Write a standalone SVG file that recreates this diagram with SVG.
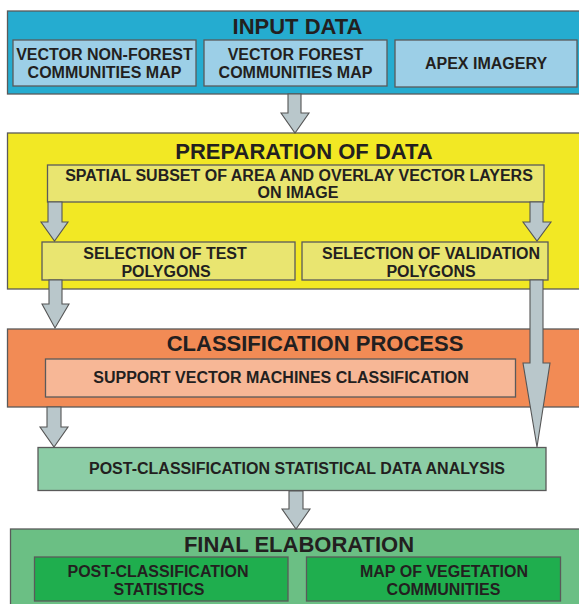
<svg xmlns="http://www.w3.org/2000/svg" width="579" height="604" viewBox="0 0 579 604">
<style>
text{font-family:"Liberation Sans",Arial,sans-serif;font-weight:bold;fill:#231f20;text-anchor:middle}
.t{font-size:22px}
.s{font-size:16px}
.box{stroke:#5a5a5a;stroke-width:1.3}
.arr{fill:#b9c7cb;stroke:#555;stroke-width:1.1;stroke-linejoin:miter}
</style>
<rect width="579" height="604" fill="#ffffff"/>
<g id="input-data">
<rect class="box" x="7.5" y="11" width="575" height="83" fill="#25acd0"/>
<text class="t" x="297.5" y="34">INPUT DATA</text>
</g>
<g id="vector-nonforest">
<rect class="box" x="13" y="40" width="183" height="46" fill="#9ccfe7"/>
<text class="s" x="104.5" y="60">VECTOR NON-FOREST</text>
<text class="s" x="104.5" y="78">COMMUNITIES MAP</text>
</g>
<g id="vector-forest">
<rect class="box" x="204" y="40" width="183" height="46" fill="#9ccfe7"/>
<text class="s" x="295.5" y="60">VECTOR FOREST</text>
<text class="s" x="295.5" y="78">COMMUNITIES MAP</text>
</g>
<g id="apex">
<rect class="box" x="395" y="40" width="182" height="47" fill="#9ccfe7"/>
<text class="s" x="486" y="69">APEX IMAGERY</text>
</g>
<g id="preparation">
<rect class="box" x="7.5" y="133" width="575" height="156" fill="#f2e824"/>
<text class="t" x="304" y="159">PREPARATION OF DATA</text>
</g>
<g id="spatial-subset">
<rect class="box" x="47.5" y="165" width="496.5" height="37" fill="#e9e570"/>
<text class="s" x="299" y="181">SPATIAL SUBSET OF AREA AND OVERLAY VECTOR LAYERS</text>
<text class="s" x="298" y="198">ON IMAGE</text>
</g>
<g id="test-polygons">
<rect class="box" x="42" y="242" width="253" height="38" fill="#e9e570"/>
<text class="s" x="165" y="259">SELECTION OF TEST</text>
<text class="s" x="166" y="277">POLYGONS</text>
</g>
<g id="validation-polygons">
<rect class="box" x="302" y="242" width="246" height="38" fill="#e9e570"/>
<text class="s" x="431" y="259">SELECTION OF VALIDATION</text>
<text class="s" x="431" y="277">POLYGONS</text>
</g>
<g id="classification">
<rect class="box" x="7.5" y="329" width="575" height="78" fill="#f28b55"/>
<text class="t" x="315" y="351">CLASSIFICATION PROCESS</text>
</g>
<g id="svm">
<rect class="box" x="45.5" y="359" width="470" height="38" fill="#f7b796"/>
<text class="s" x="281" y="383">SUPPORT VECTOR MACHINES CLASSIFICATION</text>
</g>
<g id="analysis">
<rect class="box" x="38" y="447.5" width="508" height="43" fill="#8ccda6"/>
<text class="s" x="297" y="474">POST-CLASSIFICATION STATISTICAL DATA ANALYSIS</text>
</g>
<g id="final">
<rect class="box" x="10.5" y="529" width="575" height="80" fill="#6bbf84"/>
<text class="t" x="299" y="552">FINAL ELABORATION</text>
</g>
<g id="statistics">
<rect class="box" x="34.5" y="557" width="253.5" height="44" fill="#1fae4e"/>
<text class="s" x="158" y="577">POST-CLASSIFICATION</text>
<text class="s" x="159" y="595">STATISTICS</text>
</g>
<g id="vegetation-map">
<rect class="box" x="306.5" y="557" width="254" height="44" fill="#1fae4e"/>
<text class="s" x="444" y="577">MAP OF VEGETATION</text>
<text class="s" x="443.5" y="595">COMMUNITIES</text>
</g>
<g id="connectors">
<polygon class="arr" points="288,94 301,94 301,113 309,113 295,133 281,113 288,113"/>
<polygon class="arr" points="48,202 62,202 62,222 68,222 54.5,241 41,222 48,222"/>
<polygon class="arr" points="530,202 543,202 543,222 551,222 537,241 523,222 530,222"/>
<polygon class="arr" points="49,280 62,280 62,304 69,304 55,328 42,304 49,304"/>
<polygon class="arr" points="530,280 543,280 543,363 550,363 537,447 523,363 530,363"/>
<polygon class="arr" points="47,407 61,407 61,427 68,427 54,447 40,427 47,427"/>
<polygon class="arr" points="289,491 303,491 303,509 310,509 296,529 282,509 289,509"/>
</g>
</svg>
